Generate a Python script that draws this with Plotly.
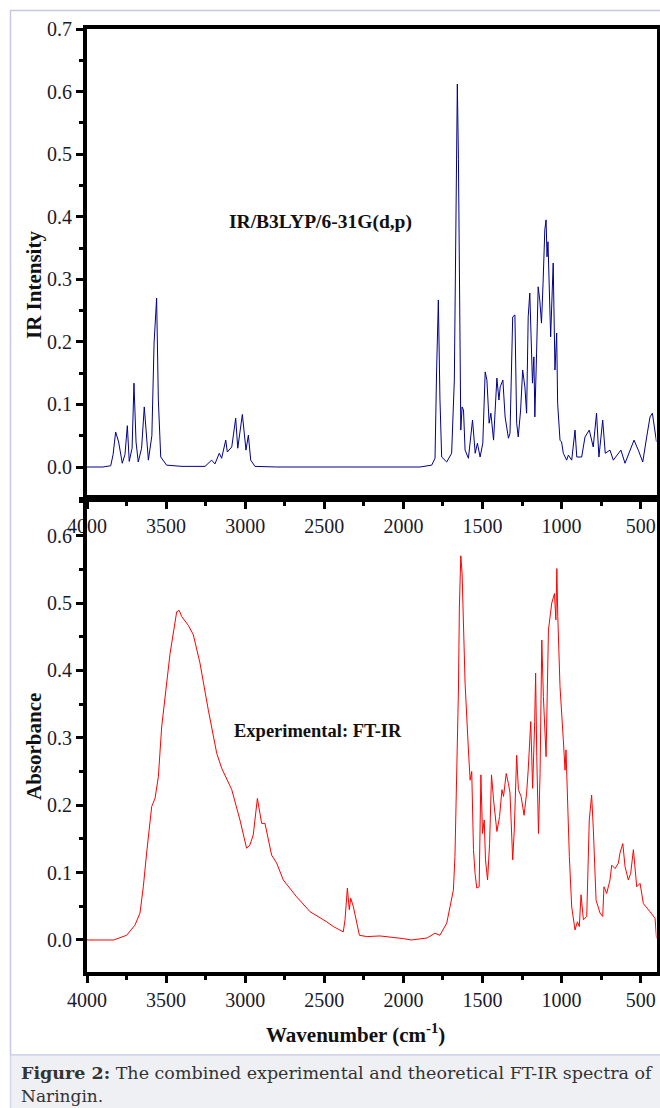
import plotly.graph_objects as go

# ---------------- data ----------------
# Theoretical IR spectrum (B3LYP/6-31G(d,p)) : wavenumber (cm-1), intensity
calc_wn = [4000, 3900, 3850, 3835, 3819, 3800, 3777, 3760, 3745, 3733, 3715, 3703,
           3690, 3676, 3655, 3638, 3612, 3590, 3576, 3560, 3549, 3534, 3497, 3400,
           3254, 3212, 3191, 3164, 3149, 3123, 3113, 3085, 3060, 3047, 3018, 2995,
           2980, 2965, 2938, 2800, 2400, 2000, 1895, 1821, 1800, 1790, 1779, 1769,
           1758, 1726, 1695, 1678, 1667, 1659, 1652, 1646, 1637, 1629, 1620, 1610,
           1589, 1563, 1546, 1532, 1515, 1498, 1483, 1472, 1458, 1447, 1430, 1409,
           1396, 1388, 1371, 1357, 1336, 1326, 1309, 1295, 1284, 1274, 1259, 1246,
           1232, 1221, 1211, 1201, 1190, 1184, 1175, 1169, 1158, 1148, 1138, 1127,
           1117, 1106, 1098, 1092, 1086, 1080, 1069, 1059, 1053, 1042, 1031, 1025,
           1010, 1000, 989, 968, 957, 936, 915, 904, 873, 852, 825, 800, 779, 764,
           740, 724, 694, 673, 625, 599, 568, 542, 515, 487, 462, 441, 426, 409, 400]
calc_int = [0.0, 0.0, 0.002, 0.02, 0.056, 0.04, 0.006, 0.02, 0.066, 0.009, 0.03, 0.134,
            0.04, 0.008, 0.03, 0.096, 0.011, 0.05, 0.198, 0.27, 0.107, 0.016, 0.003, 0.001,
            0.001, 0.011, 0.005, 0.022, 0.014, 0.043, 0.024, 0.032, 0.078, 0.030, 0.084, 0.027,
            0.051, 0.011, 0.001, 0.0, 0.0, 0.0, 0.0, 0.003, 0.014, 0.155, 0.267, 0.110,
            0.016, 0.008, 0.022, 0.139, 0.443, 0.612, 0.491, 0.254, 0.059, 0.096, 0.091, 0.027,
            0.014, 0.075, 0.022, 0.038, 0.016, 0.038, 0.152, 0.139, 0.070, 0.086, 0.043, 0.142,
            0.107, 0.128, 0.139, 0.080, 0.046, 0.054, 0.240, 0.243, 0.070, 0.048, 0.091, 0.155,
            0.128, 0.086, 0.240, 0.278, 0.155, 0.134, 0.176, 0.080, 0.182, 0.288, 0.267, 0.230,
            0.294, 0.379, 0.395, 0.336, 0.360, 0.304, 0.208, 0.283, 0.326, 0.155, 0.214, 0.102,
            0.043, 0.040, 0.022, 0.011, 0.019, 0.011, 0.059, 0.016, 0.016, 0.048, 0.059, 0.032,
            0.086, 0.016, 0.075, 0.022, 0.027, 0.011, 0.027, 0.006, 0.027, 0.043, 0.027, 0.008,
            0.048, 0.080, 0.086, 0.054, 0.040]

# Experimental FT-IR spectrum : wavenumber (cm-1), absorbance
exp_wn = [4000, 3900, 3832, 3749, 3697, 3665, 3644, 3623, 3591, 3570, 3549, 3528,
          3475, 3433, 3417, 3402, 3360, 3328, 3286, 3233, 3180, 3149, 3085, 3033,
          3012, 2991, 2970, 2949, 2923, 2907, 2896, 2875, 2833, 2801, 2759, 2675,
          2590, 2485, 2443, 2380, 2369, 2354, 2342, 2333, 2316, 2278, 2232, 2148,
          2100, 2000, 1950, 1900, 1850, 1800, 1769, 1726, 1705, 1684, 1674, 1663,
          1652, 1646, 1637, 1629, 1624, 1610, 1589, 1578, 1568, 1557, 1547, 1536,
          1521, 1510, 1500, 1489, 1481, 1468, 1455, 1443, 1430, 1409, 1392, 1377,
          1367, 1350, 1336, 1326, 1309, 1299, 1284, 1273, 1256, 1237, 1221, 1211,
          1195, 1183, 1170, 1164, 1157, 1146, 1136, 1125, 1115, 1098, 1083, 1072,
          1062, 1051, 1045, 1036, 1030, 1024, 1010, 989, 978, 972, 964, 951,
          936, 915, 900, 888, 877, 862, 841, 825, 810, 799, 782, 757,
          740, 732, 715, 694, 683, 662, 641, 631, 613, 599, 578, 563,
          546, 525, 504, 483, 441, 409, 400]
exp_abs = [0.0, 0.0, 0.0, 0.007, 0.022, 0.040, 0.079, 0.129, 0.198, 0.210, 0.242, 0.316,
           0.425, 0.487, 0.489, 0.480, 0.467, 0.453, 0.411, 0.341, 0.277, 0.255, 0.223, 0.178,
           0.156, 0.136, 0.141, 0.156, 0.210, 0.188, 0.173, 0.173, 0.126, 0.114, 0.089, 0.064,
           0.042, 0.027, 0.020, 0.012, 0.030, 0.077, 0.045, 0.062, 0.049, 0.007, 0.005, 0.006,
           0.005, 0.002, 0.0, 0.001, 0.003, 0.010, 0.007, 0.025, 0.049, 0.074, 0.124, 0.232,
           0.371, 0.494, 0.570, 0.544, 0.504, 0.381, 0.282, 0.237, 0.250, 0.134, 0.099, 0.077,
           0.079, 0.245, 0.158, 0.178, 0.119, 0.089, 0.143, 0.245, 0.208, 0.161, 0.183, 0.223,
           0.213, 0.247, 0.232, 0.218, 0.119, 0.163, 0.274, 0.223, 0.213, 0.185, 0.218, 0.252,
           0.324, 0.225, 0.324, 0.396, 0.272, 0.158, 0.247, 0.445, 0.361, 0.272, 0.460, 0.485,
           0.500, 0.509, 0.514, 0.475, 0.551, 0.480, 0.376, 0.297, 0.252, 0.282, 0.213, 0.124,
           0.049, 0.015, 0.027, 0.020, 0.067, 0.030, 0.035, 0.178, 0.215, 0.163, 0.059, 0.040,
           0.035, 0.079, 0.069, 0.089, 0.111, 0.106, 0.114, 0.129, 0.143, 0.109, 0.089, 0.099,
           0.134, 0.079, 0.084, 0.054, 0.042, 0.032, 0.0025]

x_ticks = [4000, 3500, 3000, 2500, 2000, 1500, 1000, 500]
y_ticks_top = [0.0, 0.1, 0.2, 0.3, 0.4, 0.5, 0.6, 0.7]
y_ticks_bot = [0.0, 0.1, 0.2, 0.3, 0.4, 0.5, 0.6]

# ---------------- layout helpers ----------------
W, H = 660, 1108
def fx(px):
    return px / W
def fy(px):
    return 1 - px / H

FONT = "Liberation Serif, Times New Roman, serif"

fig = go.Figure()
fig.add_trace(go.Scatter(x=calc_wn, y=calc_int, mode="lines",
                         line=dict(color="#00008B", width=1), xaxis="x", yaxis="y",
                         showlegend=False, hoverinfo="skip"))
fig.add_trace(go.Scatter(x=exp_wn, y=exp_abs, mode="lines",
                         line=dict(color="#FF0000", width=1), xaxis="x2", yaxis="y2",
                         showlegend=False, hoverinfo="skip"))

common_axis = dict(showline=True, linewidth=4, linecolor="black", mirror=True,
                   showgrid=False, zeroline=False, ticks="outside", ticklen=7,
                   tickwidth=3, tickcolor="black", automargin=False,
                   tickfont=dict(family=FONT, size=20, color="#1a1a2a"))

xdom = [fx(87), fx(656.5)]
fig.update_layout(
    template="none",
    width=W, height=H,
    margin=dict(l=0, r=0, t=0, b=0, pad=0),
    paper_bgcolor="white", plot_bgcolor="white",
    xaxis=dict(domain=xdom, range=[4000, 400], tickvals=x_ticks,
               anchor="y",
               minor=dict(dtick=250, ticklen=4, tickwidth=3, tickcolor="black", ticks="outside",
                          showgrid=False),
               **common_axis),
    yaxis=dict(domain=[fy(498.3), fy(29)], range=[-0.05, 0.7], tickvals=y_ticks_top,
               tickformat=".1f", anchor="x",
               minor=dict(dtick=0.05, ticklen=4, tickwidth=3, tickcolor="black", ticks="outside",
                          showgrid=False),
               **common_axis),
    xaxis2=dict(domain=xdom, range=[4000, 400], tickvals=x_ticks,
                anchor="y2",
                minor=dict(dtick=250, ticklen=4, tickwidth=3, tickcolor="black", ticks="outside",
                           showgrid=False),
                **common_axis),
    yaxis2=dict(domain=[fy(972), fy(499)], range=[-0.0475, 0.6543], tickvals=y_ticks_bot,
                tickformat=".1f", anchor="x2",
                minor=dict(dtick=0.05, ticklen=4, tickwidth=3, tickcolor="black", ticks="outside",
                           showgrid=False),
                **common_axis),
)

# frame of the figure block and caption box
fig.add_shape(type="rect", xref="paper", yref="paper",
              x0=fx(10.5), x1=fx(700), y0=fy(1055), y1=fy(10.5),
              line=dict(color="#c8c8e6", width=1.5), fillcolor="rgba(0,0,0,0)", layer="below")
fig.add_shape(type="rect", xref="paper", yref="paper",
              x0=fx(10.5), x1=fx(700), y0=fy(1120), y1=fy(1055),
              line=dict(color="#d4d4ea", width=1.5), fillcolor="#eff0f4", layer="below")

ann = []
ann.append(dict(text="<b>IR Intensity</b>", x=fx(34), y=fy(285), textangle=-90,
                font=dict(family=FONT, size=21, color="#111")))
ann.append(dict(text="<b>Absorbance</b>", x=fx(34), y=fy(747), textangle=-90,
                font=dict(family=FONT, size=21, color="#111")))
ann.append(dict(text="<b>Wavenumber (cm<sup>-1</sup>)</b>", x=fx(355), y=fy(1033),
                font=dict(family=FONT, size=21, color="#111")))
ann.append(dict(text="<b>IR/B3LYP/6-31G(d,p)</b>", x=fx(320), y=fy(222),
                font=dict(family=FONT, size=19.5, color="#111")))
ann.append(dict(text="<b>Experimental: FT-IR</b>", x=fx(318), y=fy(731),
                font=dict(family=FONT, size=18.5, color="#111")))
ann.append(dict(text="<b>Figure 2:</b> The combined experimental and theoretical FT-IR spectra of",
                x=fx(19), y=fy(1073), xanchor="left", align="left",
                font=dict(family="DejaVu Serif, serif", size=17.5, color="#333")))
ann.append(dict(text="Naringin.",
                x=fx(19), y=fy(1096), xanchor="left", align="left",
                font=dict(family="DejaVu Serif, serif", size=17, color="#333")))
for a in ann:
    a.setdefault("xanchor", "center")
    a.update(xref="paper", yref="paper", showarrow=False, yanchor="middle")
fig.update_layout(annotations=ann)

fig.write_html("out.html")
